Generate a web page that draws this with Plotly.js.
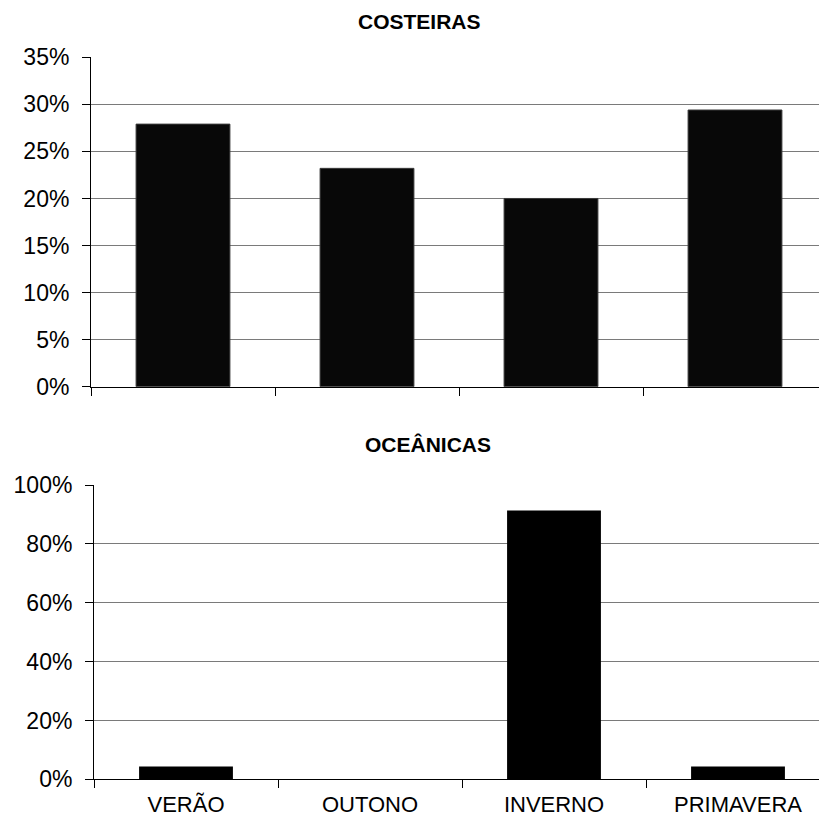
<!DOCTYPE html>
<html>
<head>
<meta charset="utf-8">
<script src="https://cdn.plot.ly/plotly-3.0.1.min.js"></script>
<style>
  html, body { margin: 0; padding: 0; overflow: hidden; background: #ffffff; }
  #chart { width: 830px; height: 827px; }
</style>
</head>
<body>
<div id="chart"></div>
<script>
// Seasons (shared category axis)
const seasons = ['VERÃO', 'OUTONO', 'INVERNO', 'PRIMAVERA'];

// Share of records per season (%)
const costeiras = [27.9, 23.2, 20.0, 29.4];
const oceanicas = [4.35, 0, 91.3, 4.35];

// Panel titles
const panelTitles = ['COSTEIRAS', 'OCEÂNICAS'];

const W = 830, H = 827;
const FONT = 'Liberation Sans, Arial, sans-serif';

const traces = [
  {
    type: 'bar', x: seasons, y: costeiras, xaxis: 'x', yaxis: 'y',
    marker: { color: '#080808', line: { color: '#3a3a3a', width: 1 } },
    hoverinfo: 'x+y'
  },
  {
    type: 'bar', x: seasons, y: oceanicas, xaxis: 'x2', yaxis: 'y2',
    marker: { color: '#000000', line: { width: 0 } },
    hoverinfo: 'x+y'
  }
];

const yCommon = {
  showline: true, linecolor: '#000000', linewidth: 1,
  ticks: 'outside', ticklen: 8, tickcolor: '#000000', tickwidth: 1,
  showgrid: true, gridcolor: '#7a7a7a', gridwidth: 1,
  zeroline: false, ticksuffix: '%', ticklabelstandoff: 8,
  tickfont: { family: FONT, size: 23, color: '#000000' },
  fixedrange: true
};
const xCommon = {
  type: 'category', showline: true, linecolor: '#000000', linewidth: 1,
  ticks: 'outside', tickson: 'boundaries', ticklen: 8, tickcolor: '#000000',
  showgrid: false, zeroline: false,
  tickfont: { family: FONT, size: 22, color: '#000000' },
  fixedrange: true
};

const layout = {
  width: W, height: H,
  margin: { l: 0, r: 0, t: 0, b: 0 },
  paper_bgcolor: '#ffffff', plot_bgcolor: '#ffffff',
  showlegend: false, bargap: 0.49,
  font: { family: FONT, color: '#000000' },
  xaxis: Object.assign({}, xCommon, {
    domain: [91 / W, 827 / W], anchor: 'y', showticklabels: false
  }),
  yaxis: Object.assign({}, yCommon, {
    domain: [1 - 386.7 / H, 1 - 57.3 / H], anchor: 'x',
    range: [0, 35], dtick: 5, tick0: 0
  }),
  xaxis2: Object.assign({}, xCommon, {
    domain: [94 / W, 830 / W], anchor: 'y2', showticklabels: true,
    ticklabelstandoff: 5
  }),
  yaxis2: Object.assign({}, yCommon, {
    domain: [1 - 779.3 / H, 1 - 485 / H], anchor: 'x2',
    range: [0, 100], dtick: 20, tick0: 0
  }),
  annotations: [
    {
      text: '<b>' + panelTitles[0] + '</b>', xref: 'paper', yref: 'paper',
      x: 419 / W, y: 1 - 21 / H, xanchor: 'center', yanchor: 'middle',
      showarrow: false, font: { family: FONT, size: 21, color: '#000000' }
    },
    {
      text: '<b>' + panelTitles[1] + '</b>', xref: 'paper', yref: 'paper',
      x: 428 / W, y: 1 - 444 / H, xanchor: 'center', yanchor: 'middle',
      showarrow: false, font: { family: FONT, size: 21, color: '#000000' }
    }
  ]
};

Plotly.newPlot('chart', traces, layout, { displayModeBar: false, staticPlot: true });
</script>
</body>
</html>
